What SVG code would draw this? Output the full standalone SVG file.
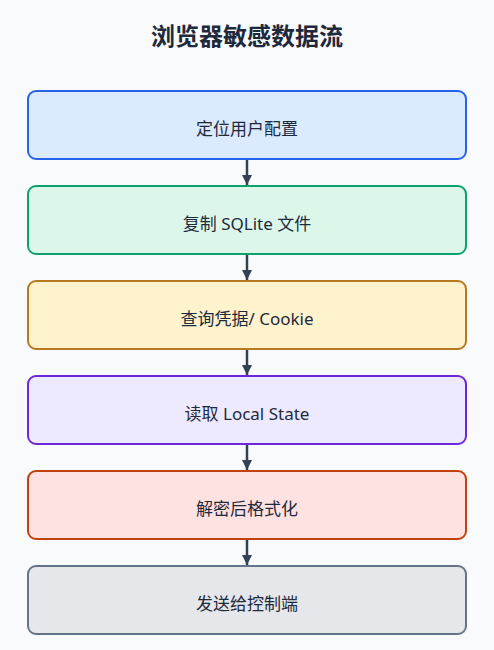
<svg xmlns="http://www.w3.org/2000/svg" width="494" height="650" viewBox="0 0 494 650">
<style>
.box{stroke-width:2}
.lbl{font-family:"Noto Sans","Noto Sans CJK SC",sans-serif;font-size:17px;fill:#1e293b;text-anchor:middle}
.title{font-family:"Noto Sans","Noto Sans CJK SC",sans-serif;font-size:24px;font-weight:bold;fill:#1e293b;text-anchor:middle}
.conn{stroke:#334155;stroke-width:2.5;fill:none}
</style>
<defs>
<marker id="ah" viewBox="0 0 10 10" refX="10" refY="5" markerWidth="10" markerHeight="10" markerUnits="userSpaceOnUse" orient="auto">
<path d="M0,0 L10,5 L0,10 z" fill="#334155"/>
</marker>
</defs>
<rect width="494" height="650" fill="#f8fafc"/>
<text class="title" x="247" y="45">浏览器敏感数据流</text>
<g id="n1"><rect class="box" x="28" y="91" width="438" height="68" rx="8" fill="#dbeafe" stroke="#2563eb"/><text class="lbl" x="247" y="135">定位用户配置</text></g>
<g id="n2"><rect class="box" x="28" y="186" width="438" height="68" rx="8" fill="#dcf7ea" stroke="#10a070"/><text class="lbl" x="247" y="230">复制 SQLite 文件</text></g>
<g id="n3"><rect class="box" x="28" y="281" width="438" height="68" rx="8" fill="#fef3cd" stroke="#b7791f"/><text class="lbl" x="247" y="325">查询凭据/ Cookie</text></g>
<g id="n4"><rect class="box" x="28" y="376" width="438" height="68" rx="8" fill="#ede9fe" stroke="#6d28d9"/><text class="lbl" x="247" y="420">读取 Local State</text></g>
<g id="n5"><rect class="box" x="28" y="471" width="438" height="68" rx="8" fill="#fee2e2" stroke="#c2410c"/><text class="lbl" x="247" y="515">解密后格式化</text></g>
<g id="n6"><rect class="box" x="28" y="566" width="438" height="68" rx="8" fill="#e5e7eb" stroke="#64748b"/><text class="lbl" x="247" y="610">发送给控制端</text></g>
<g id="connectors">
<line class="conn" x1="247" y1="160" x2="247" y2="185" marker-end="url(#ah)"/>
<line class="conn" x1="247" y1="255" x2="247" y2="280" marker-end="url(#ah)"/>
<line class="conn" x1="247" y1="350" x2="247" y2="375" marker-end="url(#ah)"/>
<line class="conn" x1="247" y1="445" x2="247" y2="470" marker-end="url(#ah)"/>
<line class="conn" x1="247" y1="540" x2="247" y2="565" marker-end="url(#ah)"/>
</g>
</svg>
